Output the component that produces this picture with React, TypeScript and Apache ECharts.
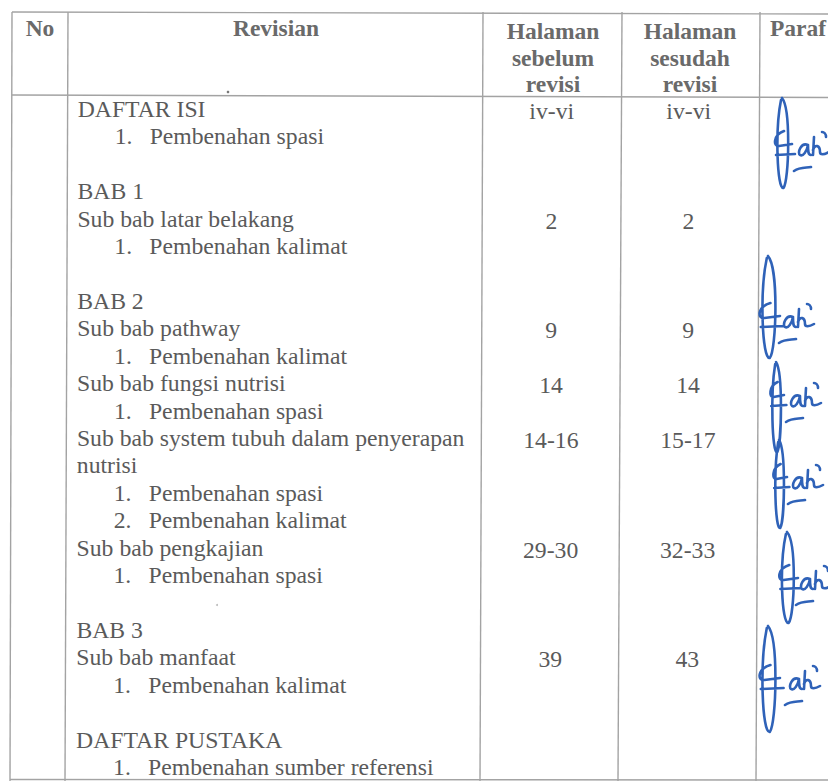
import React, { useEffect, useRef } from "react";
import * as echarts from "echarts";

// ---- Data ----
const headerNo = "No";
const headerRevisian = "Revisian";
const headerSebelum = ["Halaman", "sebelum", "revisi"];
const headerSesudah = ["Halaman", "sesudah", "revisi"];
const headerParaf = "Paraf";

const revisiNumber = ["", "1.", "", "", "", "1.", "", "", "", "1.", "", "1.", "", "", "1.", "2.", "", "1.", "", "", "", "1.", "", "", "1."];
const revisiText = [
  "DAFTAR ISI", "Pembenahan spasi", "",
  "BAB 1", "Sub bab latar belakang", "Pembenahan kalimat", "",
  "BAB 2", "Sub bab pathway", "Pembenahan kalimat",
  "Sub bab fungsi nutrisi", "Pembenahan spasi",
  "Sub bab system tubuh dalam penyerapan", "nutrisi", "Pembenahan spasi", "Pembenahan kalimat",
  "Sub bab pengkajian", "Pembenahan spasi", "",
  "BAB 3", "Sub bab manfaat", "Pembenahan kalimat", "",
  "DAFTAR PUSTAKA", "Pembenahan sumber referensi",
];
const halamanSebelum = ["iv-vi", "", "", "", "2", "", "", "", "9", "", "14", "", "14-16", "", "", "", "29-30", "", "", "", "39", "", "", "", ""];
const halamanSesudah = ["iv-vi", "", "", "", "2", "", "", "", "9", "", "14", "", "15-17", "", "", "", "32-33", "", "", "", "43", "", "", "", ""];

// ---- Layout ----
const W = 828;
const H = 781;
const FONT = "Liberation Serif";
const TEXT = "#5a5a5a";
const HEAD = "#6a6a6a";
const RULE = "#a3a3a3";
const INK = "#2f62b8";
const LINE0 = 109;
const LINE_H = 27.42;
const colTop = [12, 68, 483, 622, 760];
const colBot = [10, 65, 480, 618, 756];

// signature anchors: [loopCx, loopTop, loopBottom, loopW, ahX, ahBaseline]
const sigLayout = [
  [782, 98, 188, 10, 798, 155],
  [768, 256, 358, 12, 783, 327],
  [776, 362, 452, 8, 790, 406],
  [779, 440, 528, 8, 792, 488],
  [787, 532, 623, 11, 800, 589],
  [768, 626, 732, 12, 789, 689],
];

function sigPath(cx: number, top: number, bot: number, w: number, ax: number, ay: number) {
  const h = bot - top;
  const loop = `M${cx} ${top} C${cx + w * 0.9} ${top + h * 0.12} ${cx + w * 0.7} ${bot - h * 0.08} ${cx + w * 0.15} ${bot} C${cx - w * 0.5} ${bot + 2} ${cx - w * 0.7} ${top + h * 0.35} ${cx - w * 0.1} ${top + 2} `;
  const f = `M${cx + w * 0.2} ${ay - 24} C${cx - w * 0.9} ${ay - 20} ${cx - w * 0.9} ${ay - 8} ${cx - w * 0.3} ${ay - 9} L${cx + w * 1.0} ${ay - 11} M${cx - w * 0.6} ${ay} L${cx + w * 1.3} ${ay - 1} `;
  const a = `M${ax + 10} ${ay - 10} C${ax + 3} ${ay - 13} ${ax - 1} ${ay - 2} ${ax + 2} ${ay} C${ax + 5} ${ay + 2} ${ax + 9} ${ay - 4} ${ax + 10} ${ay - 10} C${ax + 10} ${ay - 4} ${ax + 10} ${ay} ${ax + 13} ${ay} `;
  const hh = `M${ax + 16} ${ay - 18} L${ax + 15} ${ay} M${ax + 15} ${ay - 5} C${ax + 17} ${ay - 11} ${ax + 22} ${ay - 10} ${ax + 22} ${ay - 3} C${ax + 22} ${ay} ${ax + 26} ${ay} ${ax + 31} ${ay - 3} `;
  const acc = `M${ax + 24} ${ay - 23} C${ax + 26} ${ay - 23} ${ax + 28} ${ay - 21} ${ax + 28} ${ay - 18} `;
  const u = `M${ax - 4} ${ay + 16} C${ax + 2} ${ay + 12} ${ax + 8} ${ay + 13} ${ax + 13} ${ay + 12}`;
  return loop + f + a + hh + acc + u;
}

sigLayout.forEach((s, i) => {
  echarts.graphic.registerShape(
    "sig" + i,
    echarts.graphic.extendPath(sigPath(s[0], s[1], s[2], s[3], s[4], s[5]), {}) as any
  );
});

function buildGraphic() {
  const els: any[] = [];
  els.push({ type: "rect", shape: { x: 0, y: 0, width: W, height: H }, style: { fill: "#ffffff" }, silent: true });

  const line = (x1: number, y1: number, x2: number, y2: number) =>
    els.push({ type: "line", shape: { x1, y1, x2, y2 }, style: { stroke: RULE, lineWidth: 1.4 } });
  colTop.forEach((x, i) => line(x, 12, colBot[i], H));
  line(12, 12, W, 14);
  line(12, 95, W, 97.5);
  line(10, 779.5, W, 780);

  const txt = (text: string, x: number, y: number, align: string, bold = false, color = TEXT, size = 23.7) =>
    els.push({
      type: "text",
      x,
      y,
      style: {
        text,
        fill: color,
        fontFamily: FONT,
        fontSize: size,
        fontWeight: bold ? "bold" : "normal",
        align,
        verticalAlign: "middle",
      },
    });

  // header
  txt(headerNo, 40, 28, "center", true, HEAD, 23.5);
  txt(headerRevisian, 276, 28, "center", true, HEAD, 23.5);
  headerSebelum.forEach((t, i) => txt(t, 553, 31 + i * 26.5, "center", true, HEAD, 23.5));
  headerSesudah.forEach((t, i) => txt(t, 690, 31 + i * 26.5, "center", true, HEAD, 23.5));
  txt(headerParaf, 770, 28, "left", true, HEAD, 23.5);

  // body
  revisiText.forEach((t, i) => {
    const y = LINE0 + i * LINE_H;
    const shift = -(y / H) * 2;
    if (revisiNumber[i]) {
      txt(revisiNumber[i], 115 + shift, y, "left");
      txt(t, 150 + shift, y, "left");
    } else if (t) {
      txt(t, 78 + shift, y, "left");
    }
    if (halamanSebelum[i]) txt(halamanSebelum[i], 552 + shift, y + 2, "center");
    if (halamanSesudah[i]) txt(halamanSesudah[i], 689 + shift, y + 2, "center");
  });

  // specks
  els.push({ type: "circle", shape: { cx: 228, cy: 92, r: 1.3 }, style: { fill: "#777" } });
  els.push({ type: "circle", shape: { cx: 217, cy: 605, r: 1 }, style: { fill: "#bbb" } });

  // signatures
  sigLayout.forEach((_, i) => {
    els.push({
      type: "sig" + i,
      x: 0,
      y: 0,
      style: { fill: "none", stroke: INK, lineWidth: 2.6, lineCap: "round", lineJoin: "round" },
    });
  });
  return els;
}

export default function App() {
  const ref = useRef<HTMLDivElement>(null);
  useEffect(() => {
    if (!ref.current) return;
    const chart = echarts.init(ref.current, undefined, { renderer: "svg" });
    chart.setOption({
      animation: false,
      backgroundColor: "#ffffff",
      graphic: { elements: buildGraphic() },
    });
    return () => chart.dispose();
  }, []);
  return (
    <div
      ref={ref}
      style={{ position: "fixed", left: 0, top: 0, width: W, height: H, background: "#fff" }}
    />
  );
}
